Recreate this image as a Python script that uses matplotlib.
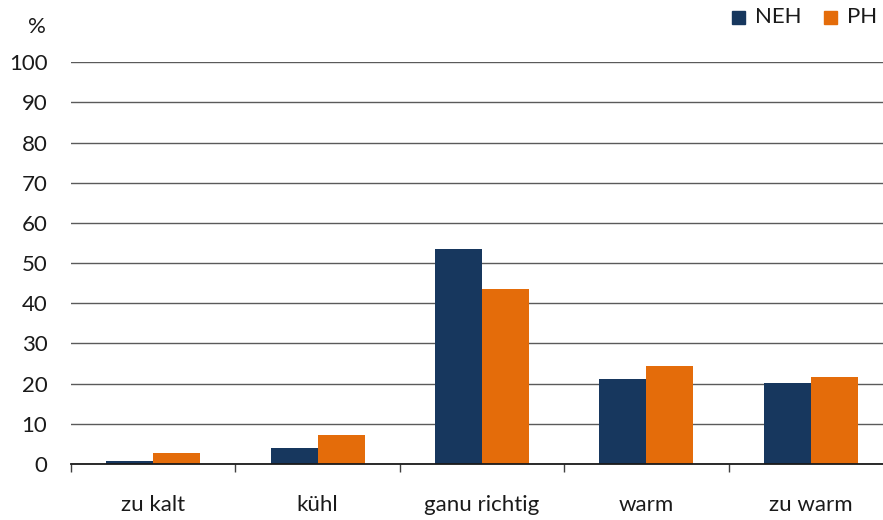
import matplotlib
matplotlib.use("Agg")
import matplotlib.pyplot as plt
import numpy as np
from matplotlib.patches import Rectangle

categories = ["zu kalt", "kühl", "ganu richtig", "warm", "zu warm"]
neh = [0.8, 4.0, 53.4, 21.2, 20.2]
ph = [2.7, 7.1, 43.6, 24.4, 21.7]
series_names = ["NEH", "PH"]
y_ticks = [0, 10, 20, 30, 40, 50, 60, 70, 80, 90, 100]

plt.rcParams["font.family"] = ["Lato", "DejaVu Sans"]
navy = "#17375E"
orange = "#E46C0A"

fig = plt.figure(figsize=(8.83, 5.2), dpi=100)
ax = fig.add_axes([71 / 883, 56 / 520, 822 / 883, 401.7 / 520])

x = np.arange(len(categories))
w = 0.286
ax.bar(x - w / 2, neh, width=w, color=navy, zorder=3)
ax.bar(x + w / 2, ph, width=w, color=orange, zorder=3)

ax.set_xlim(-0.5, len(categories) - 0.5)
ax.set_ylim(0, 100)
ax.set_yticks(y_ticks)
ax.set_yticklabels([str(v) for v in y_ticks], fontsize=16, color="#1a1a1a")
ax.tick_params(axis="y", length=0, pad=17)
ax.yaxis.grid(True, color="#5a5a5a", linewidth=1.0, zorder=0)
ax.set_axisbelow(True)

ax.set_xticks(x)
ax.set_xticklabels(categories, fontsize=16, color="#1a1a1a")
ax.set_xticks(np.arange(len(categories) + 1) - 0.5, minor=True)
ax.tick_params(axis="x", which="major", length=0, pad=22)
ax.tick_params(axis="x", which="minor", length=6, width=1.0, color="#404040", direction="out")

for s in ["top", "right", "left"]:
    ax.spines[s].set_visible(False)
ax.spines["bottom"].set_color("#1a1a1a")
ax.spines["bottom"].set_linewidth(1.3)
ax.spines["bottom"].set_zorder(4)

fig.text(37 / 883, 1 - 27 / 520, "%", fontsize=16, ha="center", va="center", color="#1a1a1a")

# legend squares with labels
for (sx, tx), name, col in zip([(732, 755), (824, 847)], series_names, [navy, orange]):
    fig.patches.append(Rectangle((sx / 883, 1 - 24 / 520), 13 / 883, 13 / 520,
                                 transform=fig.transFigure, color=col))
    fig.text(tx / 883, 1 - 17 / 520, name, fontsize=16, ha="left", va="center", color="#1a1a1a")

fig.savefig("out.png", dpi=100)
